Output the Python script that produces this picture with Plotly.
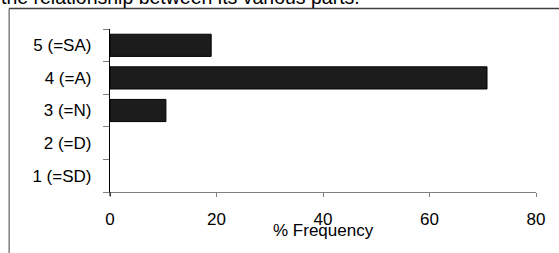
import plotly.graph_objects as go

categories = ["1 (=SD)", "2 (=D)", "3 (=N)", "4 (=A)", "5 (=SA)"]
values = [0, 0, 10.5, 70.8, 19.0]
x_ticks = [0, 20, 40, 60, 80]
x_title = "% Frequency"
top_text = "the relationship between its various parts."

W, H = 559, 253
L, R, T, B = 109.5, 23, 29, 61
pw, ph = W - L - R, H - T - B

def px(x):
    return (x - L) / pw

def py(y):
    return 1 - (y - T) / ph

fig = go.Figure(go.Bar(
    x=values, y=categories, orientation="h",
    marker=dict(color="#1c1c1c",
                line=dict(color=["rgba(0,0,0,0)" if v == 0 else "#000000" for v in values], width=1)),
    width=0.68,
))

FS = 17
fig.update_layout(
    width=W, height=H,
    margin=dict(l=L, r=R, t=T, b=B),
    paper_bgcolor="white", plot_bgcolor="white",
    showlegend=False,
    font=dict(family="Liberation Sans, Arial, sans-serif", size=FS, color="#000000"),
    xaxis=dict(
        range=[0, 80], tickvals=x_ticks, showgrid=False, zeroline=False,
        showline=True, linecolor="#808080", linewidth=1,
        ticks="outside", ticklen=4, tickcolor="#808080",
        tickfont=dict(size=FS), ticklabelstandoff=8, fixedrange=True,
    ),
    yaxis=dict(
        categoryorder="array", categoryarray=categories,
        range=[-0.5, 4.5], showgrid=False, zeroline=False,
        showline=True, linecolor="#000000", linewidth=1,
        ticks="outside", ticklen=6, tickcolor="#808080", tickson="boundaries",
        tickfont=dict(size=FS), ticksuffix="   ", fixedrange=True,
    ),
)

fig.add_annotation(
    text=x_title, xref="paper", yref="paper", x=0.5, y=py(230),
    showarrow=False, xanchor="center", yanchor="middle", font=dict(size=FS),
)
fig.add_annotation(
    text=top_text, xref="paper", yref="paper", x=px(0), y=py(10.5),
    showarrow=False, xanchor="left", yanchor="bottom", font=dict(size=19.5),
    xshift=-2,
)
# outer frame
fig.add_shape(type="line", xref="paper", yref="paper",
              x0=px(8.5), x1=px(600), y0=py(8.5), y1=py(8.5),
              line=dict(color="#404040", width=1.5))
fig.add_shape(type="line", xref="paper", yref="paper",
              x0=px(8.5), x1=px(8.5), y0=py(8.5), y1=py(300),
              line=dict(color="#404040", width=1))
# y-axis extension below x-axis
fig.add_shape(type="line", xref="paper", yref="paper",
              x0=0, x1=0, y0=py(196), y1=0,
              line=dict(color="#000000", width=1))

fig.write_html("out.html", config={"displayModeBar": False},
               post_script="document.body.style.margin='0px';document.body.style.overflow='hidden';")
